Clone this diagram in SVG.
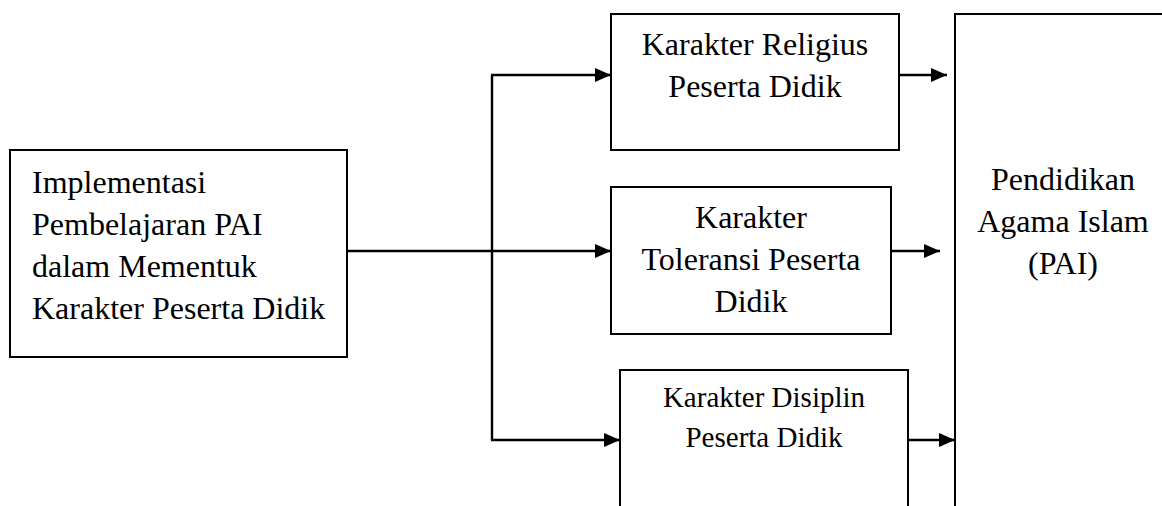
<svg xmlns="http://www.w3.org/2000/svg" width="1162" height="506" viewBox="0 0 1162 506">
<style>
.box{fill:#fff;stroke:#000;stroke-width:2}
.t{font-family:"Liberation Serif","Times New Roman",serif;font-size:32px;fill:#000}
.c{text-anchor:middle}
.s{font-size:29px}
.ln{fill:none;stroke:#000;stroke-width:2.4}
</style>
<defs>
<marker id="ah" markerUnits="userSpaceOnUse" markerWidth="16" markerHeight="14" refX="16" refY="7" orient="auto">
<path d="M0,0 L16,7 L0,14 Z" fill="#000"/>
</marker>
</defs>
<rect width="1162" height="506" fill="#fff"/>
<g id="n-implementasi">
<rect class="box" x="10" y="150" width="337" height="207"/>
<text class="t" x="32" y="193">Implementasi</text>
<text class="t" x="32" y="235">Pembelajaran PAI</text>
<text class="t" x="32" y="277">dalam Mementuk</text>
<text class="t" x="32" y="319">Karakter Peserta Didik</text>
</g>
<g id="n-religius">
<rect class="box" x="611" y="14" width="288" height="136"/>
<text class="t c" x="755" y="55">Karakter Religius</text>
<text class="t c" x="755" y="97">Peserta Didik</text>
</g>
<g id="n-toleransi">
<rect class="box" x="611" y="187" width="280" height="147"/>
<text class="t c" x="751" y="228">Karakter</text>
<text class="t c" x="751" y="270">Toleransi Peserta</text>
<text class="t c" x="751" y="312">Didik</text>
</g>
<g id="n-disiplin">
<rect class="box" x="620" y="370" width="288" height="150"/>
<text class="t c s" x="764" y="407">Karakter Disiplin</text>
<text class="t c s" x="764" y="447">Peserta Didik</text>
</g>
<g id="n-pai">
<rect class="box" x="955" y="14" width="220" height="510"/>
<text class="t c" x="1063" y="190">Pendidikan</text>
<text class="t c" x="1063" y="232">Agama Islam</text>
<text class="t c" x="1063" y="274">(PAI)</text>
</g>
<g id="connectors">
<line class="ln" x1="347" y1="251" x2="611" y2="251" marker-end="url(#ah)"/>
<line class="ln" x1="492" y1="75" x2="492" y2="440"/>
<line class="ln" x1="491" y1="75" x2="611" y2="75" marker-end="url(#ah)"/>
<line class="ln" x1="491" y1="440" x2="620" y2="440" marker-end="url(#ah)"/>
<line class="ln" x1="899" y1="75" x2="947" y2="75" marker-end="url(#ah)"/>
<line class="ln" x1="891" y1="251" x2="940" y2="251" marker-end="url(#ah)"/>
<line class="ln" x1="908" y1="440" x2="955" y2="440" marker-end="url(#ah)"/>
</g>
</svg>
